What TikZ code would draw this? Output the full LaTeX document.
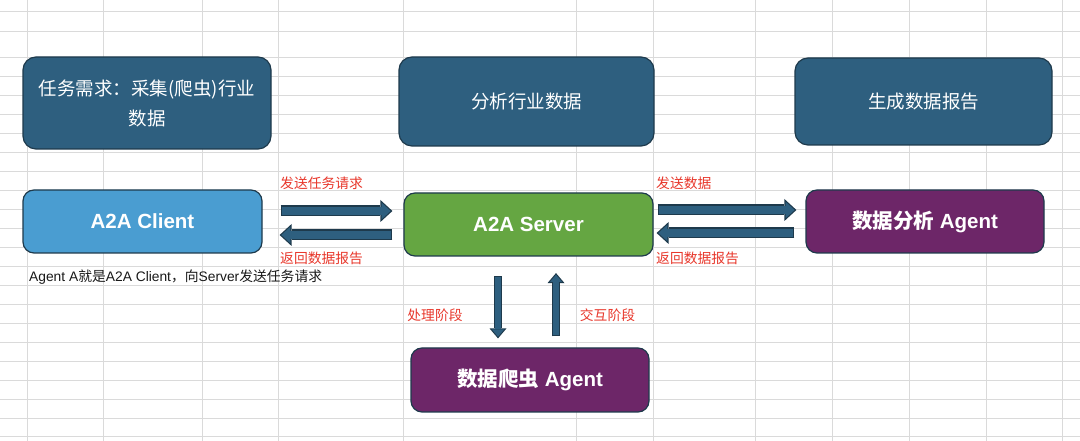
\documentclass[tikz,border=0pt]{standalone}
\usepackage{fontspec}
\setmainfont{Liberation Sans}
\newfontfamily\cjk{Noto Sans CJK SC}
\usetikzlibrary{arrows.meta,calc}

\definecolor{taskblue}{HTML}{2E5F7F}
\definecolor{boxedge}{HTML}{1E3A4C}
\definecolor{clientblue}{HTML}{4A9DD1}
\definecolor{servergreen}{HTML}{65A642}
\definecolor{agentpurple}{HTML}{6D2668}
\definecolor{tagred}{HTML}{E8372B}
\definecolor{gridgray}{HTML}{DADADA}

% two strokes make one outlined block arrow
\newcommand{\blockarrow}[3]{\draw[#1out] #2 -- #3; \draw[#1in] #2 -- #3;}

\begin{document}
\begin{tikzpicture}[x=1pt,y=1pt,
    gridline/.style={draw=gridgray,line width=1pt},
    task/.style={rectangle,rounded corners=13pt,draw=boxedge,line width=1.2pt,fill=taskblue,text=white,
        align=center,font=\cjk\fontsize{18.5}{30}\selectfont},
    agent/.style={rectangle,rounded corners=11pt,draw=boxedge,line width=1.2pt,text=white,
        font=\fontsize{20.5}{24}\selectfont\bfseries},
    tag/.style={text=tagred,font=\cjk\fontsize{13.8}{16}\selectfont,anchor=west,inner sep=0pt},
    note/.style={text=black!90,font=\fontsize{13.8}{16}\selectfont,anchor=west,inner sep=0pt},
    fatout/.style={draw=boxedge,line width=11pt,-{Triangle[length=12pt,width=22pt,line width=0pt]}},
    fatin/.style={draw=taskblue,line width=8.6pt,shorten <=1.2pt,shorten >=1.8pt,-{Triangle[length=9pt,width=16.5pt,line width=0pt]}},
    thinout/.style={draw=boxedge,line width=8.5pt,-{Triangle[length=10pt,width=17pt,line width=0pt]}},
    thinin/.style={draw=taskblue,line width=6.3pt,shorten <=1.1pt,shorten >=1.7pt,-{Triangle[length=7.2pt,width=12.2pt,line width=0pt]}}
]
    \useasboundingbox[fill=white] (0,0) rectangle (1080,441);

    % spreadsheet background
    \foreach \gx in {27,103,202,278,403,576,653,755,832,909,986,1062}
        \draw[gridline] (\gx,0) -- (\gx,441);
    \foreach \gy in {429,409}
        \draw[gridline] (0,\gy) -- (1080,\gy);
    \foreach \k in {0,...,20}
        \draw[gridline] (0,{383-18.95*\k}) -- (1080,{383-18.95*\k});

    % stages on top
    \node[task,minimum width=248pt,minimum height=92pt] (need) at (147,338) {任务需求：采集(爬虫)行业\\数据};
    \node[task,minimum width=255pt,minimum height=89pt] (analyse) at (526.5,339.5) {分析行业数据};
    \node[task,minimum width=257pt,minimum height=87pt] (report) at (923.5,339.5) {生成数据报告};

    % the agents
    \node[agent,fill=clientblue,minimum width=239pt,minimum height=63pt] (client) at (142.5,219.5) {A2A Client};
    \node[agent,fill=servergreen,minimum width=249pt,minimum height=63pt] (server) at (528.5,216.5) {A2A Server};
    \node[agent,fill=agentpurple,minimum width=238pt,minimum height=63pt] (analyst) at (925,219.5) {{\cjk 数据分析} Agent};
    \node[agent,fill=agentpurple,minimum width=238pt,minimum height=64pt] (crawler) at (530,61) {{\cjk 数据爬虫} Agent};

    % labels
    \node[tag] (sendtask) at (280,258) {发送任务请求};
    \node[tag] (backreport) at (280,183) {返回数据报告};
    \node[tag] (senddata) at (656,258) {发送数据};
    \node[tag] (backdata) at (656,183) {返回数据报告};
    \node[tag,anchor=center] (process) at (435,126) {处理阶段};
    \node[tag,anchor=center] (interact) at (607.5,126) {交互阶段};
    \node[note] (remark) at (29,164) {Agent A{\cjk 就是}A2A Client{\cjk ，向}Server{\cjk 发送任务请求}};

    % arrows
    \blockarrow{fat}{($(client.east)+(18,10.5)$)}{($(server.west)+(-11,13.5)$)}
    \blockarrow{fat}{($(server.west)+(-11,-10.5)$)}{($(client.east)+(17,-13.5)$)}
    \blockarrow{fat}{($(server.east)+(4,14.5)$)}{($(analyst.west)+(-9,11.5)$)}
    \blockarrow{fat}{($(analyst.west)+(-11,-11.5)$)}{($(server.east)+(3,-8.5)$)}
    \blockarrow{thin}{($(server.south)+(-30.5,-19.5)$)}{($(crawler.north)+(-32,9)$)}
    \blockarrow{thin}{($(crawler.north)+(26,11)$)}{($(server.south)+(27.5,-16.5)$)}
\end{tikzpicture}
\end{document}
